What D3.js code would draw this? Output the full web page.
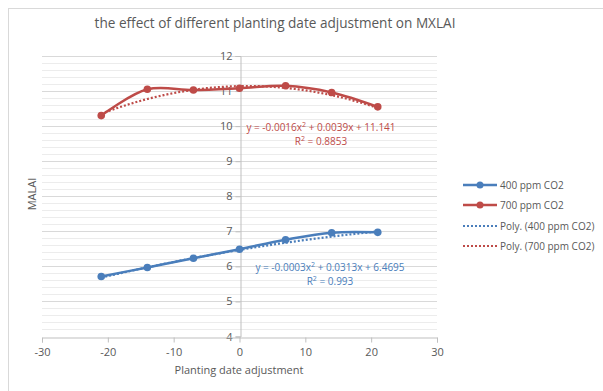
<!DOCTYPE html>
<html>
<head>
<meta charset="utf-8">
<script src="https://cdn.jsdelivr.net/npm/d3@7"></script>
<style>
  body { margin: 0; background: #fff; }
  text { font-family: "Open Sans", "Liberation Sans", sans-serif; }
</style>
</head>
<body>
<div id="chart"></div>
<script>
// data
let dates = [-21, -14, -7, 0, 7, 14, 21];
let lai400 = [5.71, 5.97, 6.23, 6.49, 6.76, 6.96, 6.97];
let lai700 = [10.30, 11.05, 11.03, 11.08, 11.15, 10.96, 10.55];
// trendline coefficients as printed on the chart (a x^2 + b x + c)
let fit400 = [-0.0003, 0.0313, 6.4695];
let fit700 = [-0.0016, 0.0039, 11.141];
let xTicks = [-30, -20, -10, 0, 10, 20, 30];
let yTicks = [4, 5, 6, 7, 8, 9, 10, 11, 12];
let seriesNames = ["400 ppm CO2", "700 ppm CO2", "Poly. (400 ppm CO2)", "Poly. (700 ppm CO2)"];

let blue = "#4a7ebb", red = "#be4b48";
let W = 603, H = 391;

let svg = d3.select("#chart").append("svg")
  .attr("width", W).attr("height", H);

// outer chart border
svg.append("rect").attr("x", 8.5).attr("y", 8.5)
  .attr("width", 640).attr("height", 420)
  .attr("fill", "#fff").attr("stroke", "#d9d9d9");

let x = d3.scaleLinear().domain([-30, 30]).range([42, 437]);
let y = d3.scaleLinear().domain([4, 12]).range([336.5, 56]);

// minor gridlines every 0.2
let minor = d3.range(4, 12.01, 0.2).filter(v => Math.abs(v - Math.round(v)) > 0.01);
svg.append("g").selectAll("line").data(minor).enter().append("line")
  .attr("x1", x(-30)).attr("x2", x(30))
  .attr("y1", d => Math.round(y(d)) + 0.5).attr("y2", d => Math.round(y(d)) + 0.5)
  .attr("stroke", "#ececec");
// major gridlines
svg.append("g").selectAll("line").data(yTicks.slice(1)).enter().append("line")
  .attr("x1", x(-30)).attr("x2", x(30))
  .attr("y1", d => Math.round(y(d)) + 0.5).attr("y2", d => Math.round(y(d)) + 0.5)
  .attr("stroke", "#d9d9d9");

// y axis at x = 0
let yAxis = svg.append("g")
  .attr("transform", "translate(" + (Math.round(x(0)) + 0.5) + ",0)")
  .call(d3.axisLeft(y).tickValues(yTicks).tickSize(5).tickPadding(3).tickFormat(d => String(d)));
// x axis at y = 4
let xAxis = svg.append("g")
  .attr("transform", "translate(0," + (Math.round(y(4)) + 0.5) + ")")
  .call(d3.axisBottom(x).tickValues(xTicks).tickSize(5).tickPadding(6).tickFormat(d => String(d)));

[xAxis, yAxis].forEach(g => {
  g.select(".domain").attr("stroke", "#bfbfbf");
  g.selectAll(".tick line").attr("stroke", "#bfbfbf");
  g.selectAll(".tick text").attr("fill", "#595959")
    .style("font-size", "11px").style("font-family", "Open Sans, sans-serif");
});

// polynomial trendlines (dotted)
function poly(c) {
  return d3.range(-21, 21.01, 0.5).map(t => [t, c[0] * t * t + c[1] * t + c[2]]);
}
let trendLine = d3.line().x(d => x(d[0])).y(d => y(d[1]));
[[fit400, blue], [fit700, red]].forEach(([c, col]) => {
  svg.append("path").attr("d", trendLine(poly(c)))
    .attr("fill", "none").attr("stroke", col)
    .attr("stroke-width", 2.2).attr("stroke-dasharray", "2,2");
});

// smoothed series lines with markers
let line = d3.line().x((d, i) => x(dates[i])).y(d => y(d)).curve(d3.curveCatmullRom);
[[lai400, blue], [lai700, red]].forEach(([vals, col]) => {
  svg.append("path").attr("d", line(vals))
    .attr("fill", "none").attr("stroke", col).attr("stroke-width", 2.5);
  svg.append("g").selectAll("circle").data(vals).enter().append("circle")
    .attr("cx", (d, i) => x(dates[i])).attr("cy", d => y(d))
    .attr("r", 3.8).attr("fill", col);
});

// trendline equations
function eqText(cx, cy, col, c, r2) {
  let fmt = v => (v < 0 ? "-" : "") + Math.abs(v);
  let t1 = svg.append("text").attr("x", cx).attr("y", cy)
    .attr("text-anchor", "middle").attr("fill", col).style("font-size", "10px");
  t1.append("tspan").text("y = " + fmt(c[0]) + "x");
  t1.append("tspan").attr("dy", -4).style("font-size", "7px").text("2");
  t1.append("tspan").attr("dy", 4).text(" + " + c[1] + "x + " + c[2]);
  let t2 = svg.append("text").attr("x", cx).attr("y", cy + 14)
    .attr("text-anchor", "middle").attr("fill", col).style("font-size", "10px");
  t2.append("tspan").text("R");
  t2.append("tspan").attr("dy", -4).style("font-size", "7px").text("2");
  t2.append("tspan").attr("dy", 4).text(" = " + r2);
}
eqText(321, 131, red, fit700, "0.8853");
eqText(330, 271, blue, fit400, "0.993");

// title and axis titles
svg.append("text").attr("x", 275).attr("y", 28).attr("text-anchor", "middle")
  .attr("fill", "#595959").style("font-size", "13.6px")
  .text("the effect of different planting date adjustment on MXLAI");
svg.append("text").attr("x", 239).attr("y", 374).attr("text-anchor", "middle")
  .attr("fill", "#595959").style("font-size", "11px")
  .text("Planting date adjustment");
svg.append("text").attr("transform", "translate(36,194) rotate(-90)")
  .attr("text-anchor", "middle").attr("fill", "#595959").style("font-size", "11px")
  .text("MALAI");

// legend
let legend = svg.append("g");
let legY = [185, 205, 226, 246];
seriesNames.forEach((name, i) => {
  let col = i % 2 === 0 ? blue : red;
  let g = legend.append("g").attr("transform", "translate(0," + legY[i] + ")");
  g.append("line").attr("x1", 463).attr("x2", 497).attr("y1", 0).attr("y2", 0)
    .attr("stroke", col).attr("stroke-width", i < 2 ? 2.5 : 2)
    .attr("stroke-dasharray", i < 2 ? null : "2,2");
  if (i < 2) g.append("circle").attr("cx", 480).attr("cy", 0).attr("r", 3.5).attr("fill", col);
  g.append("text").attr("x", 500).attr("y", 4).attr("fill", "#595959")
    .style("font-size", "10px").text(name);
});
</script>
</body>
</html>
